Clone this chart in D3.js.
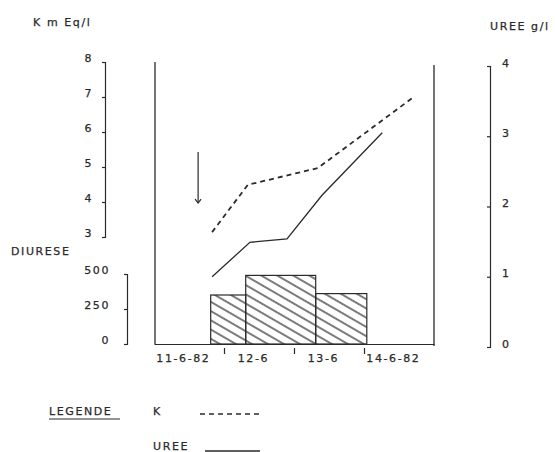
<!DOCTYPE html>
<html><head><meta charset="utf-8">
<script src="https://cdn.jsdelivr.net/npm/d3@7"></script>
<style>
html,body{margin:0;padding:0;background:#fff;}
text{font-family:"DejaVu Sans",sans-serif;fill:#2a2a2a;letter-spacing:1.6px;stroke:#2a2a2a;stroke-width:0.25px;}
</style></head><body>
<svg id="c" width="555" height="452"></svg>
<script>
// ---- data ----
const dayLabels = ["11-6-82", "12-6", "13-6", "14-6-82"];
const kDays    = [0.83, 1.34, 2.34, 3.69];
const kValues  = [3.14, 4.49, 4.97, 6.97];
const ureeDays   = [0.83, 1.37, 1.90, 2.40, 3.26];
const ureeValues = [1.00, 1.49, 1.54, 2.16, 3.05];
const barStart = [0.81, 1.31, 2.31];
const barEnd   = [1.31, 2.31, 3.04];
const diurese  = [350, 490, 360];
const kTicks = [3, 4, 5, 6, 7, 8];
const ureeTicks = [0, 1, 2, 3, 4];
const diureseTicks = [0, 250, 500];
const arrowDay = 0.63, arrowFromK = 5.43, arrowToK = 3.97;

const svg = d3.select("#c");
const ink = "#2a2a2a";

const x  = d3.scaleLinear().domain([0, 4]).range([154, 434]);
const yK = d3.scaleLinear().domain([3, 8]).range([237, 62]);
const yU = d3.scaleLinear().domain([0, 4]).range([347, 66]);
const yD = d3.scaleLinear().domain([0, 500]).range([344, 274]);

const defs = svg.append("defs");
const pat = defs.append("pattern").attr("id", "hatch")
  .attr("patternUnits", "userSpaceOnUse").attr("width", 8).attr("height", 8)
  .attr("patternTransform", "rotate(30)");
pat.append("line").attr("x1", -1).attr("y1", 4).attr("x2", 9).attr("y2", 4)
  .attr("stroke", "#222").attr("stroke-width", 1.2);

function styleAxis(g) {
  g.selectAll("path,line").attr("stroke", ink).attr("stroke-width", 1.2);
  g.selectAll("text").attr("font-size", 11).attr("fill", ink)
    .attr("font-family", "DejaVu Sans, sans-serif");
}

// K axis
const gK = svg.append("g").attr("transform", "translate(105,0)")
  .call(d3.axisLeft(yK).tickValues(kTicks).tickFormat(d3.format("d"))
    .tickSizeInner(3).tickSizeOuter(3).tickPadding(9));
styleAxis(gK); gK.selectAll("text").attr("dy", "-1");

// Diurese axis
const gD = svg.append("g").attr("transform", "translate(127,0)")
  .call(d3.axisLeft(yD).tickValues(diureseTicks).tickFormat(d3.format("d"))
    .tickSizeInner(3).tickSizeOuter(3).tickPadding(14));
styleAxis(gD); gD.selectAll("text").attr("dy", "-1");

// Uree axis (ticks to the left, labels to the right)
const gU = svg.append("g").attr("transform", "translate(490,0)")
  .call(d3.axisRight(yU).tickValues(ureeTicks).tickFormat(d3.format("d"))
    .tickSizeInner(-3).tickSizeOuter(-3).tickPadding(12));
styleAxis(gU); gU.selectAll("text").attr("dy", "0");

// Main frame
svg.append("line").attr("x1", x(0) + 1).attr("x2", x(0) + 1).attr("y1", yK(8)).attr("y2", yD(0))
  .attr("stroke", ink).attr("stroke-width", 1.3);
svg.append("line").attr("x1", x(4)).attr("x2", x(4)).attr("y1", yU(4) - 1).attr("y2", yD(0) + 2)
  .attr("stroke", ink).attr("stroke-width", 1.3);

// Bars
svg.selectAll("rect.bar").data(diurese).join("rect").attr("class", "bar")
  .attr("x", (d, i) => x(barStart[i])).attr("width", (d, i) => x(barEnd[i]) - x(barStart[i]))
  .attr("y", d => yD(d)).attr("height", d => yD(0) - yD(d))
  .attr("fill", "url(#hatch)").attr("stroke", ink).attr("stroke-width", 1.2);

// Bottom axis
const gX = svg.append("g").attr("transform", `translate(0,${yD(0)})`)
  .call(d3.axisBottom(x).tickValues([1, 2, 3]).tickFormat("").tickSizeInner(7).tickSizeOuter(0));
gX.selectAll("path,line").attr("stroke", ink).attr("stroke-width", 1.2);
gX.selectAll(".tick line").attr("y1", 4).attr("y2", 10);
svg.selectAll("text.xl").data(dayLabels).join("text").attr("class", "xl")
  .attr("x", (d, i) => x(i + 0.42)).attr("y", yD(0) + 18)
  .attr("text-anchor", "middle").attr("font-size", 11).text(d => d);

// Lines
const line = d3.line();
svg.append("path")
  .attr("d", line(kDays.map((d, i) => [x(d), yK(kValues[i])])))
  .attr("fill", "none").attr("stroke", ink).attr("stroke-width", 1.8)
  .attr("stroke-dasharray", "5,4");
svg.append("path")
  .attr("d", line(ureeDays.map((d, i) => [x(d), yU(ureeValues[i])])))
  .attr("fill", "none").attr("stroke", ink).attr("stroke-width", 1.3);

// Arrow
svg.append("line").attr("x1", x(arrowDay)).attr("x2", x(arrowDay))
  .attr("y1", yK(arrowFromK)).attr("y2", yK(arrowToK))
  .attr("stroke", ink).attr("stroke-width", 1.2);
svg.append("path")
  .attr("d", `M${x(arrowDay) - 3},${yK(arrowToK) - 4} L${x(arrowDay)},${yK(arrowToK)} L${x(arrowDay) + 3},${yK(arrowToK) - 4}`)
  .attr("fill", "none").attr("stroke", ink).attr("stroke-width", 1.2);

// Titles
svg.append("text").attr("x", 33).attr("y", 26).attr("font-size", 11).text("K m Eq/l");
svg.append("text").attr("x", 490).attr("y", 30).attr("font-size", 11).text("UREE g/l");
svg.append("text").attr("x", 11).attr("y", 255).attr("font-size", 11).text("DIURESE");

// Legend
svg.append("text").attr("x", 49).attr("y", 415).attr("font-size", 11).text("LEGENDE");
svg.append("line").attr("x1", 49).attr("x2", 120).attr("y1", 419).attr("y2", 419)
  .attr("stroke", ink).attr("stroke-width", 1.2);
svg.append("text").attr("x", 153).attr("y", 415).attr("font-size", 11).text("K");
svg.append("line").attr("x1", 200).attr("x2", 260).attr("y1", 414).attr("y2", 414)
  .attr("stroke", ink).attr("stroke-width", 1.4).attr("stroke-dasharray", "5,4");
svg.append("text").attr("x", 153).attr("y", 450).attr("font-size", 11).text("UREE");
svg.append("line").attr("x1", 205).attr("x2", 260).attr("y1", 451).attr("y2", 451)
  .attr("stroke", ink).attr("stroke-width", 1.4);
</script></body></html>
